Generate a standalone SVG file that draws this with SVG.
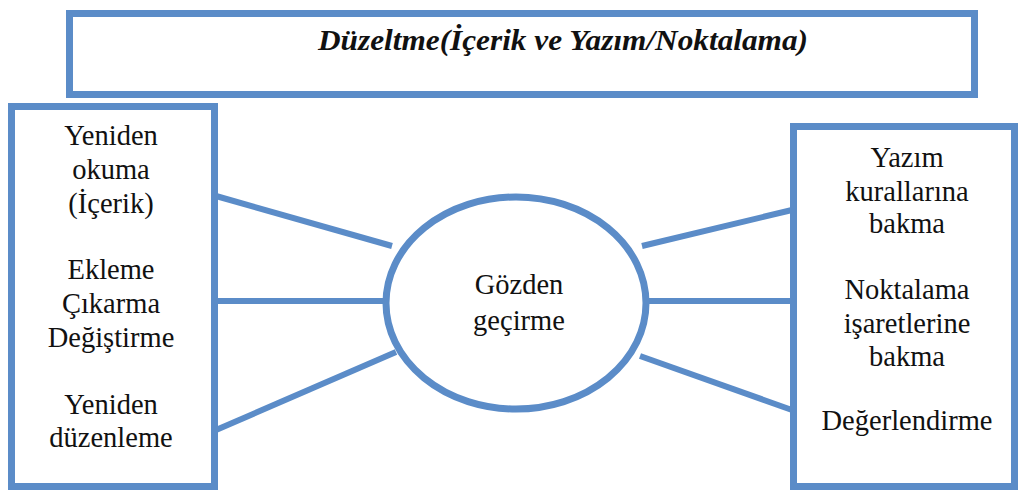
<svg xmlns="http://www.w3.org/2000/svg" width="1023" height="495" viewBox="0 0 1023 495">
  <style>
    .box { fill: #ffffff; stroke: #5b8cc8; stroke-width: 7; }
    .link { stroke: #5b8cc8; stroke-width: 6; fill: none; }
    .lbl { font-family: 'Liberation Serif', serif; font-size: 28.5px; fill: #111111; text-anchor: middle; }
    .title { font-family: 'Liberation Serif', serif; font-size: 30px; font-weight: bold; font-style: italic; fill: #111111; text-anchor: middle; }
  </style>
  <rect width="1023" height="495" fill="#ffffff"/>

  <!-- connectors -->
  <g id="connectors">
    <line class="link" x1="216" y1="196" x2="392" y2="246"/>
    <line class="link" x1="216" y1="301" x2="386" y2="301"/>
    <line class="link" x1="216" y1="430" x2="396" y2="352"/>
    <line class="link" x1="642" y1="246" x2="792" y2="210"/>
    <line class="link" x1="647" y1="301" x2="792" y2="301"/>
    <line class="link" x1="640" y1="356" x2="792" y2="410"/>
  </g>

  <g id="title">
    <rect class="box" x="69.5" y="13.5" width="905" height="81"/>
    <text class="title" x="563" y="50" textLength="490" lengthAdjust="spacingAndGlyphs">Düzeltme(İçerik ve Yazım/Noktalama)</text>
  </g>

  <g id="left">
    <rect class="box" x="11.5" y="106.5" width="203" height="380"/>
    <text class="lbl" x="111" y="145">Yeniden</text>
    <text class="lbl" x="111" y="179">okuma</text>
    <text class="lbl" x="111" y="213">(İçerik)</text>
    <text class="lbl" x="111" y="279">Ekleme</text>
    <text class="lbl" x="111" y="313">Çıkarma</text>
    <text class="lbl" x="111" y="347">Değiştirme</text>
    <text class="lbl" x="111" y="414">Yeniden</text>
    <text class="lbl" x="111" y="447">düzenleme</text>
  </g>

  <g id="center">
    <ellipse class="box" cx="516" cy="303" rx="130" ry="106"/>
    <text class="lbl" x="519" y="294">Gözden</text>
    <text class="lbl" x="519" y="330">geçirme</text>
  </g>

  <g id="right">
    <rect class="box" x="793.5" y="126.5" width="221" height="360"/>
    <text class="lbl" x="907" y="167">Yazım</text>
    <text class="lbl" x="907" y="201">kurallarına</text>
    <text class="lbl" x="907" y="233">bakma</text>
    <text class="lbl" x="907" y="299">Noktalama</text>
    <text class="lbl" x="907" y="333">işaretlerine</text>
    <text class="lbl" x="907" y="366">bakma</text>
    <text class="lbl" x="907" y="430">Değerlendirme</text>
  </g>
</svg>
